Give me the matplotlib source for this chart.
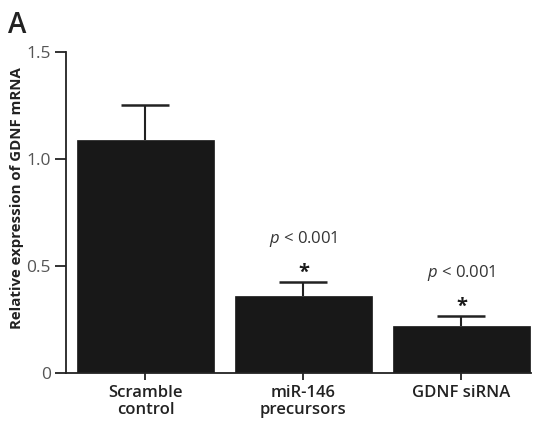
import matplotlib
matplotlib.use("Agg")
import matplotlib.pyplot as plt

categories = ["Scramble\ncontrol", "miR-146\nprecursors", "GDNF siRNA"]
values = [1.09, 0.36, 0.22]
errors = [0.163, 0.065, 0.048]
pvals = ["", "p < 0.001", "p < 0.001"]
yticks = [0, 0.5, 1.0, 1.5]
yticklabels = ["0", "0.5", "1.0", "1.5"]

plt.rcParams['font.family'] = ['Open Sans', 'DejaVu Sans']
plt.rcParams['mathtext.fontset'] = 'custom'
plt.rcParams['mathtext.it'] = 'Open Sans:italic'
plt.rcParams['mathtext.rm'] = 'Open Sans'

fig = plt.figure(figsize=(5.38, 4.25), dpi=100)
ax = fig.add_axes([0.1227, 0.1224, 0.987 - 0.1227, 0.8776 - 0.1224])

x = list(range(len(categories)))
ax.bar(x, values, width=0.87, color="#181818", edgecolor="#181818", linewidth=0.5, zorder=2)
eb = ax.errorbar(x, values, yerr=[[0] * len(values), errors], fmt="none", ecolor="#222222",
                 elinewidth=1.5, capsize=17.5, capthick=1.8, zorder=3)
if len(eb[1]) == 2:
    eb[1][0].set_visible(False)

for xi, v, e, p in zip(x, values, errors, pvals):
    if p:
        top = v + e
        ax.text(xi, top + 0.043, "*", ha="center", va="center", fontsize=14.5,
                fontweight="bold", color="#1a1a1a")
        ax.text(xi, top + 0.2, r"$p$" + " < 0.001", ha="center", va="center",
                fontsize=12, color="#333333")

ax.set_xlim(-0.503, 2.44)
ax.set_ylim(0, 1.5)
ax.set_yticks(yticks)
ax.set_yticklabels(yticklabels, fontsize=12.5, color="#555555")
ax.set_xticks(x)
ax.set_xticklabels(categories, fontsize=12, fontweight="semibold", color="#222222",
                   linespacing=1.05)
ax.tick_params(axis="y", direction="out", length=8, width=1.3, color="#222222", pad=3)
ax.tick_params(axis="x", direction="out", length=5, width=1.3, color="#222222", pad=4)
for s in ["top", "right"]:
    ax.spines[s].set_visible(False)
for s in ["left", "bottom"]:
    ax.spines[s].set_linewidth(1.3)
    ax.spines[s].set_color("#222222")

ax.set_ylabel("Relative expression of GDNF mRNA", fontsize=10.8, fontweight="bold",
              color="#222222", labelpad=5)
ax.yaxis.set_label_coords(-0.09, 0.545)

fig.text(0.014, 0.975, "A", fontsize=20, fontweight="semibold", color="#222222",
         va="top", ha="left")

fig.savefig("out.png", dpi=100)
